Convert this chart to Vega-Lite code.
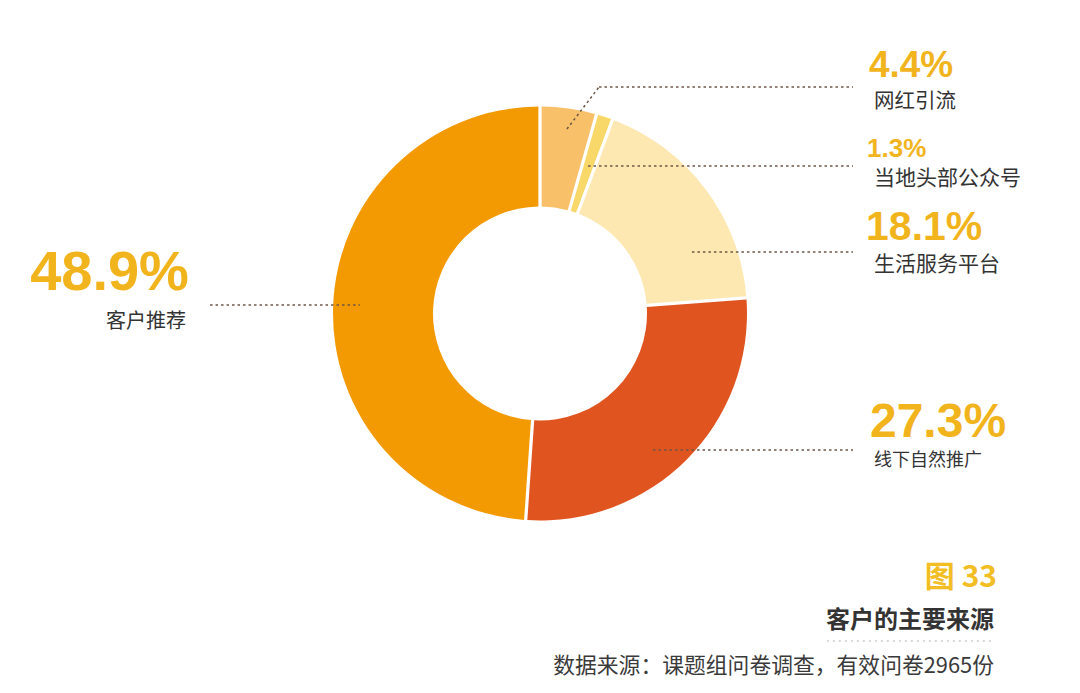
{
  "$schema": "https://vega.github.io/schema/vega-lite/v6.json",
  "width": 1080,
  "height": 693,
  "autosize": {"type": "fit", "contains": "padding"},
  "padding": 0,
  "background": "white",
  "config": {"view": {"stroke": null}},
  "datasets": {
    "sources": [
      {"rank": 1, "category": "网红引流", "value": 4.4, "pct": "4.4%"},
      {"rank": 2, "category": "当地头部公众号", "value": 1.3, "pct": "1.3%"},
      {"rank": 3, "category": "生活服务平台", "value": 18.1, "pct": "18.1%"},
      {"rank": 4, "category": "线下自然推广", "value": 27.3, "pct": "27.3%"},
      {"rank": 5, "category": "客户推荐", "value": 48.9, "pct": "48.9%"}
    ],
    "notes": [
      {"kind": "figure", "text": "图 33"},
      {"kind": "title", "text": "客户的主要来源"},
      {"kind": "source", "text": "数据来源：课题组问卷调查，有效问卷2965份"}
    ]
  },
  "data": {"name": "sources"},
  "layer": [
    {
      "mark": {"type": "arc", "outerRadius": 207, "innerRadius": 107, "padAngle": 0.014},
      "encoding": {
        "x": {"datum": 0, "type": "quantitative", "scale": {"domain": [-260.87, 260.87], "nice": false, "zero": false}, "axis": null},
        "y": {"datum": 0, "type": "quantitative", "scale": {"domain": [-183.33, 151.45], "nice": false, "zero": false}, "axis": null},
        "theta": {"field": "value", "type": "quantitative", "stack": true},
        "order": {"field": "rank", "type": "quantitative"},
        "color": {
          "field": "category",
          "type": "nominal",
          "legend": null,
          "scale": {
            "domain": ["网红引流", "当地头部公众号", "生活服务平台", "线下自然推广", "客户推荐"],
            "range": ["#F8C169", "#F8D868", "#FDE8B1", "#E0541F", "#F39A02"]
          }
        }
      }
    },
    {
      "transform": [{"filter": "datum.category === '网红引流'"}],
      "mark": {"type": "rule", "color": "#6e5646", "strokeWidth": 1.5, "strokeDash": [2.5, 3]},
      "encoding": {"x": {"datum": 13.0}, "y": {"datum": 89.1}, "x2": {"datum": 28.5}, "y2": {"datum": 109.4}}
    },
    {
      "transform": [{"filter": "datum.category === '网红引流'"}],
      "mark": {"type": "rule", "color": "#6e5646", "strokeWidth": 1.5, "strokeDash": [2.5, 3]},
      "encoding": {"x": {"datum": 28.5}, "y": {"datum": 109.4}, "x2": {"datum": 151.2}, "y2": {"datum": 109.4}}
    },
    {
      "transform": [{"filter": "datum.category === '当地头部公众号'"}],
      "mark": {"type": "rule", "color": "#6e5646", "strokeWidth": 1.5, "strokeDash": [2.5, 3]},
      "encoding": {"x": {"datum": 23.2}, "y": {"datum": 71.3}, "x2": {"datum": 151.2}, "y2": {"datum": 71.3}}
    },
    {
      "transform": [{"filter": "datum.category === '生活服务平台'"}],
      "mark": {"type": "rule", "color": "#6e5646", "strokeWidth": 1.5, "strokeDash": [2.5, 3]},
      "encoding": {"x": {"datum": 73.4}, "y": {"datum": 29.7}, "x2": {"datum": 151.2}, "y2": {"datum": 29.7}}
    },
    {
      "transform": [{"filter": "datum.category === '线下自然推广'"}],
      "mark": {"type": "rule", "color": "#6e5646", "strokeWidth": 1.5, "strokeDash": [2.5, 3]},
      "encoding": {"x": {"datum": 54.6}, "y": {"datum": -65.9}, "x2": {"datum": 151.2}, "y2": {"datum": -65.9}}
    },
    {
      "transform": [{"filter": "datum.category === '客户推荐'"}],
      "mark": {"type": "rule", "color": "#6e5646", "strokeWidth": 1.5, "strokeDash": [2.5, 3]},
      "encoding": {"x": {"datum": -159.4}, "y": {"datum": 4.1}, "x2": {"datum": -87.0}, "y2": {"datum": 4.1}}
    },
    {
      "transform": [{"filter": "datum.category === '网红引流'"}],
      "mark": {"type": "text", "align": "left", "baseline": "alphabetic", "font": "Liberation Sans", "fontWeight": "bold", "fontSize": 37, "color": "#F2B41D"},
      "encoding": {"x": {"datum": 158.9}, "y": {"datum": 114.3}, "text": {"field": "pct"}}
    },
    {
      "transform": [{"filter": "datum.category === '网红引流'"}],
      "mark": {"type": "text", "align": "left", "baseline": "alphabetic", "font": "Noto Sans CJK SC", "fontSize": 20.5, "color": "#333333"},
      "encoding": {"x": {"datum": 161.4}, "y": {"datum": 99.3}, "text": {"field": "category"}}
    },
    {
      "transform": [{"filter": "datum.category === '当地头部公众号'"}],
      "mark": {"type": "text", "align": "left", "baseline": "alphabetic", "font": "Liberation Sans", "fontWeight": "bold", "fontSize": 26, "color": "#F2B41D"},
      "encoding": {"x": {"datum": 158.0}, "y": {"datum": 75.6}, "text": {"field": "pct"}}
    },
    {
      "transform": [{"filter": "datum.category === '当地头部公众号'"}],
      "mark": {"type": "text", "align": "left", "baseline": "alphabetic", "font": "Noto Sans CJK SC", "fontSize": 21, "color": "#333333"},
      "encoding": {"x": {"datum": 161.4}, "y": {"datum": 62.1}, "text": {"field": "category"}}
    },
    {
      "transform": [{"filter": "datum.category === '生活服务平台'"}],
      "mark": {"type": "text", "align": "left", "baseline": "alphabetic", "font": "Liberation Sans", "fontWeight": "bold", "fontSize": 41, "color": "#F2B41D"},
      "encoding": {"x": {"datum": 157.5}, "y": {"datum": 35.5}, "text": {"field": "pct"}}
    },
    {
      "transform": [{"filter": "datum.category === '生活服务平台'"}],
      "mark": {"type": "text", "align": "left", "baseline": "alphabetic", "font": "Noto Sans CJK SC", "fontSize": 21, "color": "#333333"},
      "encoding": {"x": {"datum": 161.4}, "y": {"datum": 20.5}, "text": {"field": "category"}}
    },
    {
      "transform": [{"filter": "datum.category === '线下自然推广'"}],
      "mark": {"type": "text", "align": "left", "baseline": "alphabetic", "font": "Liberation Sans", "fontWeight": "bold", "fontSize": 48, "color": "#F2B41D"},
      "encoding": {"x": {"datum": 159.4}, "y": {"datum": -59.7}, "text": {"field": "pct"}}
    },
    {
      "transform": [{"filter": "datum.category === '线下自然推广'"}],
      "mark": {"type": "text", "align": "left", "baseline": "alphabetic", "font": "Noto Sans CJK SC", "fontSize": 18, "color": "#333333"},
      "encoding": {"x": {"datum": 161.4}, "y": {"datum": -73.7}, "text": {"field": "category"}}
    },
    {
      "transform": [{"filter": "datum.category === '客户推荐'"}],
      "mark": {"type": "text", "align": "right", "baseline": "alphabetic", "font": "Liberation Sans", "fontWeight": "bold", "fontSize": 56, "color": "#F2B41D"},
      "encoding": {"x": {"datum": -169.6}, "y": {"datum": 11.4}, "text": {"field": "pct"}}
    },
    {
      "transform": [{"filter": "datum.category === '客户推荐'"}],
      "mark": {"type": "text", "align": "right", "baseline": "alphabetic", "font": "Noto Sans CJK SC", "fontSize": 20, "color": "#333333"},
      "encoding": {"x": {"datum": -171.0}, "y": {"datum": -7.0}, "text": {"field": "category"}}
    },
    {
      "data": {"name": "notes"},
      "transform": [{"filter": "datum.kind === 'figure'"}],
      "mark": {"type": "text", "align": "right", "baseline": "alphabetic", "font": "Noto Sans CJK SC", "fontWeight": "bold", "fontSize": 30, "color": "#F2BE24"},
      "encoding": {"x": {"datum": 220.8}, "y": {"datum": -132.1}, "text": {"field": "text"}}
    },
    {
      "data": {"name": "notes"},
      "transform": [{"filter": "datum.kind === 'title'"}],
      "mark": {"type": "text", "align": "right", "baseline": "alphabetic", "font": "Noto Sans CJK SC", "fontWeight": "bold", "fontSize": 24, "color": "#333333"},
      "encoding": {"x": {"datum": 219.3}, "y": {"datum": -151.9}, "text": {"field": "text"}}
    },
    {
      "data": {"name": "notes"},
      "transform": [{"filter": "datum.kind === 'title'"}],
      "mark": {"type": "rule", "color": "#cccccc", "strokeWidth": 1.5, "strokeDash": [2, 4]},
      "encoding": {"x": {"datum": 138.6}, "y": {"datum": -158.2}, "x2": {"datum": 219.8}, "y2": {"datum": -158.2}}
    },
    {
      "data": {"name": "notes"},
      "transform": [{"filter": "datum.kind === 'source'"}],
      "mark": {"type": "text", "align": "right", "baseline": "alphabetic", "font": "Noto Sans CJK SC", "fontSize": 21.8, "color": "#3a3a3a"},
      "encoding": {"x": {"datum": 219.3}, "y": {"datum": -173.7}, "text": {"field": "text"}}
    }
  ]
}
